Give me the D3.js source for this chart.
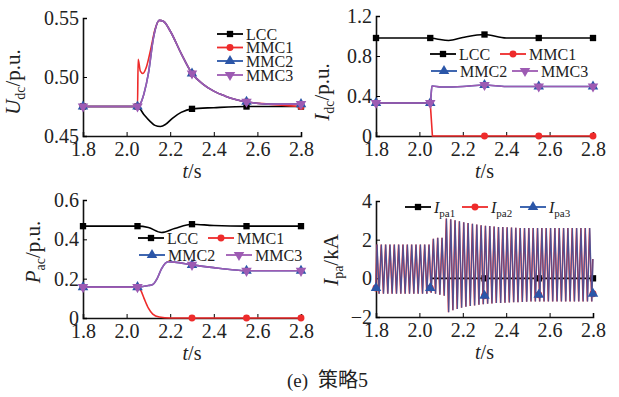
<!DOCTYPE html>
<html>
<head>
<meta charset="utf-8">
<script src="https://cdn.jsdelivr.net/npm/d3@7"></script>
<style>
  body { margin: 0; background: #fff; }
</style>
</head>
<body>
<div id="chart"></div>
<script>
// ---- data ----
var xTicks = [1.8, 2.0, 2.2, 2.4, 2.6, 2.8];
var markT = [1.8, 2.05, 2.3, 2.55, 2.8];

// (a) Udc
var udcLccT = [1.8, 2.05, 2.08, 2.11, 2.13, 2.155, 2.18, 2.21, 2.25, 2.3, 2.4, 2.55, 2.8];
var udcLccV = [0.475, 0.475, 0.468, 0.462, 0.459, 0.458, 0.46, 0.465, 0.47, 0.473, 0.474, 0.475, 0.475];
var udcMmc1T = [1.8, 2.05, 2.053, 2.063, 2.075, 2.09, 2.11, 2.13, 2.15, 2.17, 2.2, 2.25, 2.3, 2.35, 2.4, 2.45, 2.5, 2.55, 2.65, 2.8];
var udcMmc1V = [0.475, 0.475, 0.515, 0.505, 0.503, 0.508, 0.523, 0.54, 0.548, 0.547, 0.539, 0.52, 0.503, 0.494, 0.488, 0.484, 0.481, 0.479, 0.477, 0.475];
var udcMmcT = [1.8, 2.05, 2.065, 2.08, 2.1, 2.123, 2.15, 2.17, 2.2, 2.25, 2.3, 2.35, 2.4, 2.45, 2.5, 2.55, 2.65, 2.8];
var udcMmcV = [0.475, 0.475, 0.478, 0.486, 0.503, 0.533, 0.548, 0.547, 0.539, 0.52, 0.503, 0.494, 0.488, 0.484, 0.481, 0.479, 0.477, 0.477];
var udcTicks = [0.45, 0.50, 0.55];

// (b) Idc
var idcLccT = [1.8, 2.05, 2.08, 2.135, 2.2, 2.3, 2.4, 2.55, 2.8];
var idcLccV = [0.98, 0.98, 0.97, 0.955, 0.985, 1.015, 0.98, 0.98, 0.98];
var idcMmc1T = [1.8, 2.05, 2.06, 2.3, 2.55, 2.8];
var idcMmc1V = [0.33, 0.33, 0, 0, 0, 0];
var idcMmcT = [1.8, 2.05, 2.058, 2.1, 2.2, 2.3, 2.4, 2.55, 2.8];
var idcMmcV = [0.33, 0.33, 0.5, 0.49, 0.495, 0.51, 0.495, 0.495, 0.495];
var idcTicks = [0, 0.4, 0.8, 1.2];

// (c) Pac
var pacLccT = [1.8, 2.05, 2.1, 2.16, 2.22, 2.3, 2.4, 2.55, 2.8];
var pacLccV = [0.467, 0.467, 0.46, 0.435, 0.455, 0.477, 0.47, 0.467, 0.467];
var pacMmc1T = [1.8, 2.05, 2.065, 2.08, 2.1, 2.12, 2.15, 2.2, 2.3, 2.55, 2.8];
var pacMmc1V = [0.157, 0.157, 0.14, 0.1, 0.05, 0.02, 0.005, 0, 0, 0, 0];
var pacMmcT = [1.8, 2.05, 2.1, 2.12, 2.14, 2.16, 2.19, 2.22, 2.3, 2.4, 2.5, 2.55, 2.8];
var pacMmcV = [0.157, 0.157, 0.165, 0.17, 0.2, 0.25, 0.286, 0.284, 0.27, 0.256, 0.244, 0.24, 0.24];
var pacTicks = [0, 0.2, 0.4, 0.6];

// (d) Ipa, 50 Hz: one peak and one trough per cycle
var ipaStart = [1.8, -0.5], ipaEnd = [2.8, 1.0];
var ipaFirstPeak = 1.805, ipaHalfPeriod = 0.01;
var ipaPeaks = [1.75, 1.75, 1.75, 1.75, 1.75, 1.75, 1.75, 1.75, 1.75, 1.75, 1.75, 1.75, 1.75,
  2.05, 2.1, 2.1,
  3.1, 3.05, 3.0, 2.95, 2.9, 2.86, 2.82, 2.78, 2.75, 2.72, 2.7, 2.68, 2.66, 2.65, 2.64, 2.63, 2.62,
  2.6, 2.6, 2.6, 2.6, 2.6, 2.6, 2.6, 2.6, 2.6, 2.6, 2.6, 2.6, 2.6, 2.6, 2.6, 2.6, 2.6];
var ipaTroughs = [-0.8, -0.8, -0.8, -0.8, -0.8, -0.8, -0.8, -0.8, -0.8, -0.8, -0.8, -0.8,
  -0.75, -0.8, -0.85, -0.9,
  -1.75, -1.65, -1.58, -1.52, -1.47, -1.43, -1.4, -1.37, -1.34, -1.32, -1.3, -1.28, -1.27, -1.26,
  -1.25, -1.24, -1.23, -1.22, -1.21,
  -1.2, -1.2, -1.2, -1.2, -1.2, -1.2, -1.2, -1.2, -1.2, -1.2, -1.2, -1.2, -1.2, -1.2, -1.2];
var ipa1T = [2.05, 2.3, 2.55, 2.8];
var ipa1V = [0, 0, 0, 0];
var ipaMarkT = [1.8, 2.05, 2.3, 2.55, 2.8];
var ipaMarkV = [-0.5, -0.5, -0.9, -0.85, -0.8];
var ipaTicks = [-2, 0, 2, 4];

// ---- drawing ----
var SERIF = "'Liberation Serif', 'Times New Roman', 'DejaVu Serif', serif";
var RED = "#ee2b2b", BLUE = "#2b56a8", PURPLE = "#9d5bb3";
var svg = d3.select("#chart").append("svg").attr("width", 619).attr("height", 397);

function zip(ts, vs) { return ts.map(function (t, i) { return [t, vs[i]]; }); }

function txt(sel, size) {
  return sel.style("font-family", SERIF).style("font-size", size + "px").attr("fill", "#222");
}

var sym = {
  square: d3.symbol().type(d3.symbolSquare).size(40),
  circle: d3.symbol().type(d3.symbolCircle).size(38),
  tri: d3.symbol().type(d3.symbolTriangle).size(48),
  down: d3.symbol().type(d3.symbolTriangle).size(48)
};

function drawMarker(g, kind, px, py, color) {
  g.append("path")
    .attr("d", sym[kind]())
    .attr("transform", "translate(" + px + "," + py + ")" + (kind == "down" ? " rotate(180)" : ""))
    .attr("fill", color);
}

function panel(o) {
  var g = svg.append("g");
  var x = d3.scaleLinear().domain([1.8, 2.8]).range([o.x0, o.x1]);
  var y = d3.scaleLinear().domain(o.yDom).range([o.yBot, o.yTop]);

  // axes, ticks pointing inwards
  g.append("g")
    .attr("transform", "translate(0," + o.yBot + ")")
    .call(d3.axisBottom(x).tickValues(xTicks).tickSize(-4).tickPadding(6).tickFormat(d3.format(".1f")))
    .call(function (a) {
      a.select(".domain").attr("stroke", "#111").attr("stroke-width", 1.6);
      txt(a.selectAll("text"), 20);
    });
  g.append("g")
    .attr("transform", "translate(" + o.x0 + ",0)")
    .call(d3.axisLeft(y).tickValues(o.yTicks).tickSize(-4).tickPadding(4).tickFormat(o.yFmt))
    .call(function (a) {
      a.select(".domain").attr("stroke", "#111").attr("stroke-width", 1.6);
      txt(a.selectAll("text"), 20);
    });

  // series
  o.series.forEach(function (s) {
    g.append("path")
      .datum(s.pts)
      .attr("fill", "none")
      .attr("stroke", s.color)
      .attr("stroke-width", s.width || 1.6)
      .attr("stroke-opacity", s.opacity || 1)
      .attr("transform", s.shift ? "translate(" + s.shift + ",0)" : null)
      .attr("d", d3.line().x(function (d) { return x(d[0]); }).y(function (d) { return y(d[1]); })
        .curve(s.curve || d3.curveMonotoneX));
    var mk = s.marks || s.pts.filter(function (d) { return markT.indexOf(d[0]) >= 0; });
    mk.forEach(function (d) { drawMarker(g, s.marker, x(d[0]), y(d[1]), s.color); });
  });

  // x title
  var xt = txt(g.append("text"), 20).attr("x", (o.x0 + o.x1) / 2).attr("y", o.yBot + 42)
    .attr("text-anchor", "middle");
  xt.append("tspan").style("font-style", "italic").text("t");
  xt.append("tspan").text("/s");

  // y title, rotated
  var yt = txt(g.append("text"), 21)
    .attr("transform", "translate(" + o.ytX + "," + o.ytY + ") rotate(-90)")
    .attr("text-anchor", "middle");
  yt.append("tspan").style("font-style", "italic").text(o.yMain);
  yt.append("tspan").attr("dy", 5).style("font-size", "14px").text(o.ySub);
  yt.append("tspan").attr("dy", -5).text(o.yUnit);

  // legend
  o.legend.forEach(function (l) {
    var s = o.series[l.i];
    g.append("line").attr("x1", l.x).attr("x2", l.x + 26).attr("y1", l.y).attr("y2", l.y)
      .attr("stroke", s.color).attr("stroke-width", 1.8);
    drawMarker(g, s.marker, l.x + 13, l.y, s.color);
    var t = txt(g.append("text"), 16).attr("x", l.x + 29).attr("y", l.y + 5.5);
    if (l.sub) {
      t.append("tspan").style("font-style", "italic").text(l.label);
      t.append("tspan").attr("dy", 4).style("font-size", "11px").text(l.sub);
    } else {
      t.text(l.label);
    }
  });
}

var fmt2 = d3.format(".2f");
var fmtAc = function (d) { return d === 0 ? "0" : d3.format(".1f")(d); };

panel({
  x0: 83, x1: 301, yTop: 18, yBot: 136, yDom: [0.45, 0.55], yTicks: udcTicks, yFmt: fmt2,
  ytX: 20, ytY: 82, yMain: "U", ySub: "dc", yUnit: "/p.u.",
  series: [
    { color: "#000", marker: "square", pts: zip(udcLccT, udcLccV) },
    { color: RED, marker: "circle", pts: zip(udcMmc1T, udcMmc1V) },
    { color: BLUE, marker: "tri", pts: zip(udcMmcT, udcMmcV) },
    { color: PURPLE, marker: "down", pts: zip(udcMmcT, udcMmcV) }
  ],
  legend: [
    { i: 0, x: 217, y: 34, label: "LCC" },
    { i: 1, x: 217, y: 47.5, label: "MMC1" },
    { i: 2, x: 217, y: 61, label: "MMC2" },
    { i: 3, x: 217, y: 75, label: "MMC3" }
  ]
});

panel({
  x0: 376, x1: 593, yTop: 16, yBot: 136, yDom: [0, 1.2], yTicks: idcTicks, yFmt: fmtAc,
  ytX: 329, ytY: 92, yMain: "I", ySub: "dc", yUnit: "/p.u.",
  series: [
    { color: "#000", marker: "square", pts: zip(idcLccT, idcLccV) },
    { color: RED, marker: "circle", curve: d3.curveLinear, pts: zip(idcMmc1T, idcMmc1V) },
    { color: BLUE, marker: "tri", pts: zip(idcMmcT, idcMmcV) },
    { color: PURPLE, marker: "down", pts: zip(idcMmcT, idcMmcV) }
  ],
  legend: [
    { i: 0, x: 430, y: 54, label: "LCC" },
    { i: 1, x: 500, y: 54, label: "MMC1" },
    { i: 2, x: 431, y: 71, label: "MMC2" },
    { i: 3, x: 512, y: 71, label: "MMC3" }
  ]
});

panel({
  x0: 83, x1: 301, yTop: 200, yBot: 318, yDom: [0, 0.6], yTicks: pacTicks, yFmt: fmtAc,
  ytX: 40, ytY: 252, yMain: "P", ySub: "ac", yUnit: "/p.u.",
  series: [
    { color: "#000", marker: "square", pts: zip(pacLccT, pacLccV) },
    { color: RED, marker: "circle", pts: zip(pacMmc1T, pacMmc1V) },
    { color: BLUE, marker: "tri", pts: zip(pacMmcT, pacMmcV) },
    { color: PURPLE, marker: "down", pts: zip(pacMmcT, pacMmcV) }
  ],
  legend: [
    { i: 0, x: 138, y: 238, label: "LCC" },
    { i: 1, x: 208, y: 238, label: "MMC1" },
    { i: 2, x: 139, y: 255, label: "MMC2" },
    { i: 3, x: 226, y: 255, label: "MMC3" }
  ]
});

// build the zigzag from the read peaks / troughs
var ipaPts = [ipaStart];
ipaPeaks.forEach(function (p, k) {
  ipaPts.push([ipaFirstPeak + 2 * k * ipaHalfPeriod, p]);
  ipaPts.push([ipaFirstPeak + (2 * k + 1) * ipaHalfPeriod, ipaTroughs[k]]);
});
ipaPts.push(ipaEnd);
var ipaMarks = zip(ipaMarkT, ipaMarkV);

panel({
  x0: 376, x1: 593, yTop: 201, yBot: 317, yDom: [-2, 4], yTicks: ipaTicks,
  yFmt: function (d) { return d < 0 ? "\u2212" + (-d) : String(d); },
  ytX: 338, ytY: 260, yMain: "I", ySub: "pa", yUnit: "/kA",
  series: [
    { color: "#000", marker: "square", curve: d3.curveLinear, pts: zip(ipa1T, ipa1V),
      marks: zip(ipa1T.slice(1), ipa1V.slice(1)) },
    { color: RED, marker: "circle", curve: d3.curveLinear, width: 1.4, shift: -0.25, pts: ipaPts, marks: ipaMarks },
    { color: BLUE, marker: "tri", curve: d3.curveLinear, width: 1.3, opacity: 0.8, pts: ipaPts, marks: ipaMarks }
  ],
  legend: [
    { i: 0, x: 405, y: 207, label: "I", sub: "pa1" },
    { i: 1, x: 462, y: 207, label: "I", sub: "pa2" },
    { i: 2, x: 520, y: 207, label: "I", sub: "pa3" }
  ]
});

// caption
txt(svg.append("text"), 19).attr("x", 287).attr("y", 387).text("(e)");
var cap = svg.append("text").attr("x", 318).attr("y", 387).attr("fill", "#222");
cap.append("tspan").style("font-family", "'Noto Sans CJK SC', sans-serif").style("font-size", "20px").text("策略");
cap.append("tspan").style("font-family", SERIF).style("font-size", "20px").text("5");
</script>
</body>
</html>
